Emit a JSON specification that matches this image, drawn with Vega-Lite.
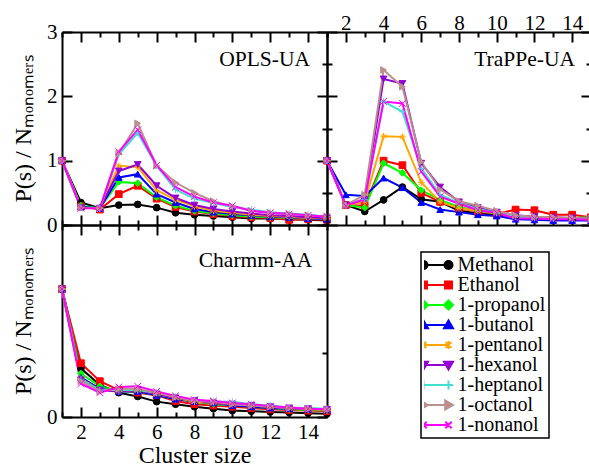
{
  "$schema": "https://vega.github.io/schema/vega-lite/v6.json",
  "padding": {"left": 11, "top": 7, "right": 0, "bottom": 0},
  "background": "white",
  "datasets": {
    "curves": [
      {"panel":"OPLS-UA","series":"Methanol","x":1,"y":1.0},{"panel":"OPLS-UA","series":"Methanol","x":2,"y":0.35},{"panel":"OPLS-UA","series":"Methanol","x":3,"y":0.26},{"panel":"OPLS-UA","series":"Methanol","x":4,"y":0.31},{"panel":"OPLS-UA","series":"Methanol","x":5,"y":0.32},{"panel":"OPLS-UA","series":"Methanol","x":6,"y":0.27},{"panel":"OPLS-UA","series":"Methanol","x":7,"y":0.19},{"panel":"OPLS-UA","series":"Methanol","x":8,"y":0.16},{"panel":"OPLS-UA","series":"Methanol","x":9,"y":0.14},{"panel":"OPLS-UA","series":"Methanol","x":10,"y":0.12},{"panel":"OPLS-UA","series":"Methanol","x":11,"y":0.10},{"panel":"OPLS-UA","series":"Methanol","x":12,"y":0.10},{"panel":"OPLS-UA","series":"Methanol","x":13,"y":0.09},{"panel":"OPLS-UA","series":"Methanol","x":14,"y":0.08},{"panel":"OPLS-UA","series":"Methanol","x":15,"y":0.07},
      {"panel":"OPLS-UA","series":"Ethanol","x":1,"y":1.0},{"panel":"OPLS-UA","series":"Ethanol","x":2,"y":0.29},{"panel":"OPLS-UA","series":"Ethanol","x":3,"y":0.24},{"panel":"OPLS-UA","series":"Ethanol","x":4,"y":0.48},{"panel":"OPLS-UA","series":"Ethanol","x":5,"y":0.61},{"panel":"OPLS-UA","series":"Ethanol","x":6,"y":0.41},{"panel":"OPLS-UA","series":"Ethanol","x":7,"y":0.28},{"panel":"OPLS-UA","series":"Ethanol","x":8,"y":0.21},{"panel":"OPLS-UA","series":"Ethanol","x":9,"y":0.17},{"panel":"OPLS-UA","series":"Ethanol","x":10,"y":0.14},{"panel":"OPLS-UA","series":"Ethanol","x":11,"y":0.12},{"panel":"OPLS-UA","series":"Ethanol","x":12,"y":0.11},{"panel":"OPLS-UA","series":"Ethanol","x":13,"y":0.08},{"panel":"OPLS-UA","series":"Ethanol","x":14,"y":0.09},{"panel":"OPLS-UA","series":"Ethanol","x":15,"y":0.08},
      {"panel":"OPLS-UA","series":"1-propanol","x":1,"y":1.0},{"panel":"OPLS-UA","series":"1-propanol","x":2,"y":0.30},{"panel":"OPLS-UA","series":"1-propanol","x":3,"y":0.26},{"panel":"OPLS-UA","series":"1-propanol","x":4,"y":0.67},{"panel":"OPLS-UA","series":"1-propanol","x":5,"y":0.65},{"panel":"OPLS-UA","series":"1-propanol","x":6,"y":0.43},{"panel":"OPLS-UA","series":"1-propanol","x":7,"y":0.30},{"panel":"OPLS-UA","series":"1-propanol","x":8,"y":0.22},{"panel":"OPLS-UA","series":"1-propanol","x":9,"y":0.18},{"panel":"OPLS-UA","series":"1-propanol","x":10,"y":0.15},{"panel":"OPLS-UA","series":"1-propanol","x":11,"y":0.13},{"panel":"OPLS-UA","series":"1-propanol","x":12,"y":0.12},{"panel":"OPLS-UA","series":"1-propanol","x":13,"y":0.11},{"panel":"OPLS-UA","series":"1-propanol","x":14,"y":0.10},{"panel":"OPLS-UA","series":"1-propanol","x":15,"y":0.09},
      {"panel":"OPLS-UA","series":"1-butanol","x":1,"y":1.0},{"panel":"OPLS-UA","series":"1-butanol","x":2,"y":0.28},{"panel":"OPLS-UA","series":"1-butanol","x":3,"y":0.26},{"panel":"OPLS-UA","series":"1-butanol","x":4,"y":0.74},{"panel":"OPLS-UA","series":"1-butanol","x":5,"y":0.79},{"panel":"OPLS-UA","series":"1-butanol","x":6,"y":0.48},{"panel":"OPLS-UA","series":"1-butanol","x":7,"y":0.35},{"panel":"OPLS-UA","series":"1-butanol","x":8,"y":0.25},{"panel":"OPLS-UA","series":"1-butanol","x":9,"y":0.20},{"panel":"OPLS-UA","series":"1-butanol","x":10,"y":0.17},{"panel":"OPLS-UA","series":"1-butanol","x":11,"y":0.15},{"panel":"OPLS-UA","series":"1-butanol","x":12,"y":0.13},{"panel":"OPLS-UA","series":"1-butanol","x":13,"y":0.12},{"panel":"OPLS-UA","series":"1-butanol","x":14,"y":0.10},{"panel":"OPLS-UA","series":"1-butanol","x":15,"y":0.09},
      {"panel":"OPLS-UA","series":"1-pentanol","x":1,"y":1.0},{"panel":"OPLS-UA","series":"1-pentanol","x":2,"y":0.27},{"panel":"OPLS-UA","series":"1-pentanol","x":3,"y":0.26},{"panel":"OPLS-UA","series":"1-pentanol","x":4,"y":0.92},{"panel":"OPLS-UA","series":"1-pentanol","x":5,"y":0.90},{"panel":"OPLS-UA","series":"1-pentanol","x":6,"y":0.54},{"panel":"OPLS-UA","series":"1-pentanol","x":7,"y":0.39},{"panel":"OPLS-UA","series":"1-pentanol","x":8,"y":0.29},{"panel":"OPLS-UA","series":"1-pentanol","x":9,"y":0.22},{"panel":"OPLS-UA","series":"1-pentanol","x":10,"y":0.19},{"panel":"OPLS-UA","series":"1-pentanol","x":11,"y":0.16},{"panel":"OPLS-UA","series":"1-pentanol","x":12,"y":0.14},{"panel":"OPLS-UA","series":"1-pentanol","x":13,"y":0.13},{"panel":"OPLS-UA","series":"1-pentanol","x":14,"y":0.11},{"panel":"OPLS-UA","series":"1-pentanol","x":15,"y":0.10},
      {"panel":"OPLS-UA","series":"1-hexanol","x":1,"y":1.0},{"panel":"OPLS-UA","series":"1-hexanol","x":2,"y":0.27},{"panel":"OPLS-UA","series":"1-hexanol","x":3,"y":0.26},{"panel":"OPLS-UA","series":"1-hexanol","x":4,"y":0.84},{"panel":"OPLS-UA","series":"1-hexanol","x":5,"y":0.94},{"panel":"OPLS-UA","series":"1-hexanol","x":6,"y":0.61},{"panel":"OPLS-UA","series":"1-hexanol","x":7,"y":0.42},{"panel":"OPLS-UA","series":"1-hexanol","x":8,"y":0.31},{"panel":"OPLS-UA","series":"1-hexanol","x":9,"y":0.25},{"panel":"OPLS-UA","series":"1-hexanol","x":10,"y":0.21},{"panel":"OPLS-UA","series":"1-hexanol","x":11,"y":0.18},{"panel":"OPLS-UA","series":"1-hexanol","x":12,"y":0.15},{"panel":"OPLS-UA","series":"1-hexanol","x":13,"y":0.14},{"panel":"OPLS-UA","series":"1-hexanol","x":14,"y":0.12},{"panel":"OPLS-UA","series":"1-hexanol","x":15,"y":0.11},
      {"panel":"OPLS-UA","series":"1-heptanol","x":1,"y":1.0},{"panel":"OPLS-UA","series":"1-heptanol","x":2,"y":0.27},{"panel":"OPLS-UA","series":"1-heptanol","x":3,"y":0.26},{"panel":"OPLS-UA","series":"1-heptanol","x":4,"y":1.10},{"panel":"OPLS-UA","series":"1-heptanol","x":5,"y":1.43},{"panel":"OPLS-UA","series":"1-heptanol","x":6,"y":0.92},{"panel":"OPLS-UA","series":"1-heptanol","x":7,"y":0.55},{"panel":"OPLS-UA","series":"1-heptanol","x":8,"y":0.41},{"panel":"OPLS-UA","series":"1-heptanol","x":9,"y":0.34},{"panel":"OPLS-UA","series":"1-heptanol","x":10,"y":0.28},{"panel":"OPLS-UA","series":"1-heptanol","x":11,"y":0.24},{"panel":"OPLS-UA","series":"1-heptanol","x":12,"y":0.20},{"panel":"OPLS-UA","series":"1-heptanol","x":13,"y":0.18},{"panel":"OPLS-UA","series":"1-heptanol","x":14,"y":0.16},{"panel":"OPLS-UA","series":"1-heptanol","x":15,"y":0.13},
      {"panel":"OPLS-UA","series":"1-octanol","x":1,"y":1.0},{"panel":"OPLS-UA","series":"1-octanol","x":2,"y":0.27},{"panel":"OPLS-UA","series":"1-octanol","x":3,"y":0.26},{"panel":"OPLS-UA","series":"1-octanol","x":4,"y":1.11},{"panel":"OPLS-UA","series":"1-octanol","x":5,"y":1.58},{"panel":"OPLS-UA","series":"1-octanol","x":6,"y":0.92},{"panel":"OPLS-UA","series":"1-octanol","x":7,"y":0.66},{"panel":"OPLS-UA","series":"1-octanol","x":8,"y":0.50},{"panel":"OPLS-UA","series":"1-octanol","x":9,"y":0.37},{"panel":"OPLS-UA","series":"1-octanol","x":10,"y":0.29},{"panel":"OPLS-UA","series":"1-octanol","x":11,"y":0.22},{"panel":"OPLS-UA","series":"1-octanol","x":12,"y":0.19},{"panel":"OPLS-UA","series":"1-octanol","x":13,"y":0.17},{"panel":"OPLS-UA","series":"1-octanol","x":14,"y":0.15},{"panel":"OPLS-UA","series":"1-octanol","x":15,"y":0.13},
      {"panel":"OPLS-UA","series":"1-nonanol","x":1,"y":1.0},{"panel":"OPLS-UA","series":"1-nonanol","x":2,"y":0.26},{"panel":"OPLS-UA","series":"1-nonanol","x":3,"y":0.26},{"panel":"OPLS-UA","series":"1-nonanol","x":4,"y":1.14},{"panel":"OPLS-UA","series":"1-nonanol","x":5,"y":1.48},{"panel":"OPLS-UA","series":"1-nonanol","x":6,"y":0.93},{"panel":"OPLS-UA","series":"1-nonanol","x":7,"y":0.59},{"panel":"OPLS-UA","series":"1-nonanol","x":8,"y":0.44},{"panel":"OPLS-UA","series":"1-nonanol","x":9,"y":0.35},{"panel":"OPLS-UA","series":"1-nonanol","x":10,"y":0.30},{"panel":"OPLS-UA","series":"1-nonanol","x":11,"y":0.22},{"panel":"OPLS-UA","series":"1-nonanol","x":12,"y":0.19},{"panel":"OPLS-UA","series":"1-nonanol","x":13,"y":0.17},{"panel":"OPLS-UA","series":"1-nonanol","x":14,"y":0.15},{"panel":"OPLS-UA","series":"1-nonanol","x":15,"y":0.13},

      {"panel":"TraPPe-UA","series":"Methanol","x":1,"y":1.0},{"panel":"TraPPe-UA","series":"Methanol","x":2,"y":0.31},{"panel":"TraPPe-UA","series":"Methanol","x":3,"y":0.21},{"panel":"TraPPe-UA","series":"Methanol","x":4,"y":0.39},{"panel":"TraPPe-UA","series":"Methanol","x":5,"y":0.59},{"panel":"TraPPe-UA","series":"Methanol","x":6,"y":0.40},{"panel":"TraPPe-UA","series":"Methanol","x":7,"y":0.36},{"panel":"TraPPe-UA","series":"Methanol","x":8,"y":0.22},{"panel":"TraPPe-UA","series":"Methanol","x":9,"y":0.18},{"panel":"TraPPe-UA","series":"Methanol","x":10,"y":0.16},{"panel":"TraPPe-UA","series":"Methanol","x":11,"y":0.13},{"panel":"TraPPe-UA","series":"Methanol","x":12,"y":0.11},{"panel":"TraPPe-UA","series":"Methanol","x":13,"y":0.10},{"panel":"TraPPe-UA","series":"Methanol","x":14,"y":0.09},{"panel":"TraPPe-UA","series":"Methanol","x":15,"y":0.08},
      {"panel":"TraPPe-UA","series":"Ethanol","x":1,"y":1.0},{"panel":"TraPPe-UA","series":"Ethanol","x":2,"y":0.31},{"panel":"TraPPe-UA","series":"Ethanol","x":3,"y":0.30},{"panel":"TraPPe-UA","series":"Ethanol","x":4,"y":1.00},{"panel":"TraPPe-UA","series":"Ethanol","x":5,"y":0.93},{"panel":"TraPPe-UA","series":"Ethanol","x":6,"y":0.50},{"panel":"TraPPe-UA","series":"Ethanol","x":7,"y":0.36},{"panel":"TraPPe-UA","series":"Ethanol","x":8,"y":0.26},{"panel":"TraPPe-UA","series":"Ethanol","x":9,"y":0.21},{"panel":"TraPPe-UA","series":"Ethanol","x":10,"y":0.17},{"panel":"TraPPe-UA","series":"Ethanol","x":11,"y":0.24},{"panel":"TraPPe-UA","series":"Ethanol","x":12,"y":0.23},{"panel":"TraPPe-UA","series":"Ethanol","x":13,"y":0.16},{"panel":"TraPPe-UA","series":"Ethanol","x":14,"y":0.16},{"panel":"TraPPe-UA","series":"Ethanol","x":15,"y":0.12},
      {"panel":"TraPPe-UA","series":"1-propanol","x":1,"y":1.0},{"panel":"TraPPe-UA","series":"1-propanol","x":2,"y":0.31},{"panel":"TraPPe-UA","series":"1-propanol","x":3,"y":0.27},{"panel":"TraPPe-UA","series":"1-propanol","x":4,"y":0.96},{"panel":"TraPPe-UA","series":"1-propanol","x":5,"y":0.81},{"panel":"TraPPe-UA","series":"1-propanol","x":6,"y":0.54},{"panel":"TraPPe-UA","series":"1-propanol","x":7,"y":0.39},{"panel":"TraPPe-UA","series":"1-propanol","x":8,"y":0.28},{"panel":"TraPPe-UA","series":"1-propanol","x":9,"y":0.22},{"panel":"TraPPe-UA","series":"1-propanol","x":10,"y":0.18},{"panel":"TraPPe-UA","series":"1-propanol","x":11,"y":0.14},{"panel":"TraPPe-UA","series":"1-propanol","x":12,"y":0.12},{"panel":"TraPPe-UA","series":"1-propanol","x":13,"y":0.11},{"panel":"TraPPe-UA","series":"1-propanol","x":14,"y":0.11},{"panel":"TraPPe-UA","series":"1-propanol","x":15,"y":0.12},
      {"panel":"TraPPe-UA","series":"1-butanol","x":1,"y":1.0},{"panel":"TraPPe-UA","series":"1-butanol","x":2,"y":0.47},{"panel":"TraPPe-UA","series":"1-butanol","x":3,"y":0.45},{"panel":"TraPPe-UA","series":"1-butanol","x":4,"y":0.73},{"panel":"TraPPe-UA","series":"1-butanol","x":5,"y":0.58},{"panel":"TraPPe-UA","series":"1-butanol","x":6,"y":0.35},{"panel":"TraPPe-UA","series":"1-butanol","x":7,"y":0.24},{"panel":"TraPPe-UA","series":"1-butanol","x":8,"y":0.20},{"panel":"TraPPe-UA","series":"1-butanol","x":9,"y":0.16},{"panel":"TraPPe-UA","series":"1-butanol","x":10,"y":0.14},{"panel":"TraPPe-UA","series":"1-butanol","x":11,"y":0.09},{"panel":"TraPPe-UA","series":"1-butanol","x":12,"y":0.08},{"panel":"TraPPe-UA","series":"1-butanol","x":13,"y":0.07},{"panel":"TraPPe-UA","series":"1-butanol","x":14,"y":0.07},{"panel":"TraPPe-UA","series":"1-butanol","x":15,"y":0.07},
      {"panel":"TraPPe-UA","series":"1-pentanol","x":1,"y":1.0},{"panel":"TraPPe-UA","series":"1-pentanol","x":2,"y":0.31},{"panel":"TraPPe-UA","series":"1-pentanol","x":3,"y":0.36},{"panel":"TraPPe-UA","series":"1-pentanol","x":4,"y":1.38},{"panel":"TraPPe-UA","series":"1-pentanol","x":5,"y":1.37},{"panel":"TraPPe-UA","series":"1-pentanol","x":6,"y":0.66},{"panel":"TraPPe-UA","series":"1-pentanol","x":7,"y":0.36},{"panel":"TraPPe-UA","series":"1-pentanol","x":8,"y":0.26},{"panel":"TraPPe-UA","series":"1-pentanol","x":9,"y":0.22},{"panel":"TraPPe-UA","series":"1-pentanol","x":10,"y":0.19},{"panel":"TraPPe-UA","series":"1-pentanol","x":11,"y":0.14},{"panel":"TraPPe-UA","series":"1-pentanol","x":12,"y":0.12},{"panel":"TraPPe-UA","series":"1-pentanol","x":13,"y":0.11},{"panel":"TraPPe-UA","series":"1-pentanol","x":14,"y":0.10},{"panel":"TraPPe-UA","series":"1-pentanol","x":15,"y":0.09},
      {"panel":"TraPPe-UA","series":"1-hexanol","x":1,"y":1.0},{"panel":"TraPPe-UA","series":"1-hexanol","x":2,"y":0.31},{"panel":"TraPPe-UA","series":"1-hexanol","x":3,"y":0.40},{"panel":"TraPPe-UA","series":"1-hexanol","x":4,"y":2.27},{"panel":"TraPPe-UA","series":"1-hexanol","x":5,"y":2.20},{"panel":"TraPPe-UA","series":"1-hexanol","x":6,"y":0.96},{"panel":"TraPPe-UA","series":"1-hexanol","x":7,"y":0.59},{"panel":"TraPPe-UA","series":"1-hexanol","x":8,"y":0.36},{"panel":"TraPPe-UA","series":"1-hexanol","x":9,"y":0.27},{"panel":"TraPPe-UA","series":"1-hexanol","x":10,"y":0.20},{"panel":"TraPPe-UA","series":"1-hexanol","x":11,"y":0.15},{"panel":"TraPPe-UA","series":"1-hexanol","x":12,"y":0.13},{"panel":"TraPPe-UA","series":"1-hexanol","x":13,"y":0.12},{"panel":"TraPPe-UA","series":"1-hexanol","x":14,"y":0.11},{"panel":"TraPPe-UA","series":"1-hexanol","x":15,"y":0.10},
      {"panel":"TraPPe-UA","series":"1-heptanol","x":1,"y":1.0},{"panel":"TraPPe-UA","series":"1-heptanol","x":2,"y":0.31},{"panel":"TraPPe-UA","series":"1-heptanol","x":3,"y":0.40},{"panel":"TraPPe-UA","series":"1-heptanol","x":4,"y":1.92},{"panel":"TraPPe-UA","series":"1-heptanol","x":5,"y":1.76},{"panel":"TraPPe-UA","series":"1-heptanol","x":6,"y":0.88},{"panel":"TraPPe-UA","series":"1-heptanol","x":7,"y":0.47},{"panel":"TraPPe-UA","series":"1-heptanol","x":8,"y":0.34},{"panel":"TraPPe-UA","series":"1-heptanol","x":9,"y":0.25},{"panel":"TraPPe-UA","series":"1-heptanol","x":10,"y":0.19},{"panel":"TraPPe-UA","series":"1-heptanol","x":11,"y":0.13},{"panel":"TraPPe-UA","series":"1-heptanol","x":12,"y":0.11},{"panel":"TraPPe-UA","series":"1-heptanol","x":13,"y":0.10},{"panel":"TraPPe-UA","series":"1-heptanol","x":14,"y":0.10},{"panel":"TraPPe-UA","series":"1-heptanol","x":15,"y":0.09},
      {"panel":"TraPPe-UA","series":"1-octanol","x":1,"y":1.0},{"panel":"TraPPe-UA","series":"1-octanol","x":2,"y":0.31},{"panel":"TraPPe-UA","series":"1-octanol","x":3,"y":0.47},{"panel":"TraPPe-UA","series":"1-octanol","x":4,"y":2.41},{"panel":"TraPPe-UA","series":"1-octanol","x":5,"y":2.15},{"panel":"TraPPe-UA","series":"1-octanol","x":6,"y":0.98},{"panel":"TraPPe-UA","series":"1-octanol","x":7,"y":0.55},{"panel":"TraPPe-UA","series":"1-octanol","x":8,"y":0.37},{"panel":"TraPPe-UA","series":"1-octanol","x":9,"y":0.30},{"panel":"TraPPe-UA","series":"1-octanol","x":10,"y":0.22},{"panel":"TraPPe-UA","series":"1-octanol","x":11,"y":0.15},{"panel":"TraPPe-UA","series":"1-octanol","x":12,"y":0.13},{"panel":"TraPPe-UA","series":"1-octanol","x":13,"y":0.12},{"panel":"TraPPe-UA","series":"1-octanol","x":14,"y":0.11},{"panel":"TraPPe-UA","series":"1-octanol","x":15,"y":0.10},
      {"panel":"TraPPe-UA","series":"1-nonanol","x":1,"y":1.0},{"panel":"TraPPe-UA","series":"1-nonanol","x":2,"y":0.30},{"panel":"TraPPe-UA","series":"1-nonanol","x":3,"y":0.40},{"panel":"TraPPe-UA","series":"1-nonanol","x":4,"y":1.92},{"panel":"TraPPe-UA","series":"1-nonanol","x":5,"y":1.89},{"panel":"TraPPe-UA","series":"1-nonanol","x":6,"y":0.83},{"panel":"TraPPe-UA","series":"1-nonanol","x":7,"y":0.44},{"panel":"TraPPe-UA","series":"1-nonanol","x":8,"y":0.33},{"panel":"TraPPe-UA","series":"1-nonanol","x":9,"y":0.23},{"panel":"TraPPe-UA","series":"1-nonanol","x":10,"y":0.19},{"panel":"TraPPe-UA","series":"1-nonanol","x":11,"y":0.10},{"panel":"TraPPe-UA","series":"1-nonanol","x":12,"y":0.10},{"panel":"TraPPe-UA","series":"1-nonanol","x":13,"y":0.09},{"panel":"TraPPe-UA","series":"1-nonanol","x":14,"y":0.09},{"panel":"TraPPe-UA","series":"1-nonanol","x":15,"y":0.08},

      {"panel":"Charmm-AA","series":"Methanol","x":1,"y":1.0},{"panel":"Charmm-AA","series":"Methanol","x":2,"y":0.38},{"panel":"Charmm-AA","series":"Methanol","x":3,"y":0.25},{"panel":"Charmm-AA","series":"Methanol","x":4,"y":0.19},{"panel":"Charmm-AA","series":"Methanol","x":5,"y":0.16},{"panel":"Charmm-AA","series":"Methanol","x":6,"y":0.12},{"panel":"Charmm-AA","series":"Methanol","x":7,"y":0.10},{"panel":"Charmm-AA","series":"Methanol","x":8,"y":0.08},{"panel":"Charmm-AA","series":"Methanol","x":9,"y":0.065},{"panel":"Charmm-AA","series":"Methanol","x":10,"y":0.05},{"panel":"Charmm-AA","series":"Methanol","x":11,"y":0.045},{"panel":"Charmm-AA","series":"Methanol","x":12,"y":0.04},{"panel":"Charmm-AA","series":"Methanol","x":13,"y":0.035},{"panel":"Charmm-AA","series":"Methanol","x":14,"y":0.03},{"panel":"Charmm-AA","series":"Methanol","x":15,"y":0.025},
      {"panel":"Charmm-AA","series":"Ethanol","x":1,"y":1.0},{"panel":"Charmm-AA","series":"Ethanol","x":2,"y":0.42},{"panel":"Charmm-AA","series":"Ethanol","x":3,"y":0.28},{"panel":"Charmm-AA","series":"Ethanol","x":4,"y":0.21},{"panel":"Charmm-AA","series":"Ethanol","x":5,"y":0.19},{"panel":"Charmm-AA","series":"Ethanol","x":6,"y":0.17},{"panel":"Charmm-AA","series":"Ethanol","x":7,"y":0.125},{"panel":"Charmm-AA","series":"Ethanol","x":8,"y":0.10},{"panel":"Charmm-AA","series":"Ethanol","x":9,"y":0.09},{"panel":"Charmm-AA","series":"Ethanol","x":10,"y":0.08},{"panel":"Charmm-AA","series":"Ethanol","x":11,"y":0.07},{"panel":"Charmm-AA","series":"Ethanol","x":12,"y":0.06},{"panel":"Charmm-AA","series":"Ethanol","x":13,"y":0.055},{"panel":"Charmm-AA","series":"Ethanol","x":14,"y":0.05},{"panel":"Charmm-AA","series":"Ethanol","x":15,"y":0.045},
      {"panel":"Charmm-AA","series":"1-propanol","x":1,"y":1.0},{"panel":"Charmm-AA","series":"1-propanol","x":2,"y":0.34},{"panel":"Charmm-AA","series":"1-propanol","x":3,"y":0.24},{"panel":"Charmm-AA","series":"1-propanol","x":4,"y":0.20},{"panel":"Charmm-AA","series":"1-propanol","x":5,"y":0.20},{"panel":"Charmm-AA","series":"1-propanol","x":6,"y":0.17},{"panel":"Charmm-AA","series":"1-propanol","x":7,"y":0.14},{"panel":"Charmm-AA","series":"1-propanol","x":8,"y":0.12},{"panel":"Charmm-AA","series":"1-propanol","x":9,"y":0.10},{"panel":"Charmm-AA","series":"1-propanol","x":10,"y":0.09},{"panel":"Charmm-AA","series":"1-propanol","x":11,"y":0.08},{"panel":"Charmm-AA","series":"1-propanol","x":12,"y":0.07},{"panel":"Charmm-AA","series":"1-propanol","x":13,"y":0.06},{"panel":"Charmm-AA","series":"1-propanol","x":14,"y":0.055},{"panel":"Charmm-AA","series":"1-propanol","x":15,"y":0.05},
      {"panel":"Charmm-AA","series":"1-butanol","x":1,"y":1.0},{"panel":"Charmm-AA","series":"1-butanol","x":2,"y":0.31},{"panel":"Charmm-AA","series":"1-butanol","x":3,"y":0.22},{"panel":"Charmm-AA","series":"1-butanol","x":4,"y":0.20},{"panel":"Charmm-AA","series":"1-butanol","x":5,"y":0.20},{"panel":"Charmm-AA","series":"1-butanol","x":6,"y":0.17},{"panel":"Charmm-AA","series":"1-butanol","x":7,"y":0.14},{"panel":"Charmm-AA","series":"1-butanol","x":8,"y":0.12},{"panel":"Charmm-AA","series":"1-butanol","x":9,"y":0.11},{"panel":"Charmm-AA","series":"1-butanol","x":10,"y":0.09},{"panel":"Charmm-AA","series":"1-butanol","x":11,"y":0.08},{"panel":"Charmm-AA","series":"1-butanol","x":12,"y":0.07},{"panel":"Charmm-AA","series":"1-butanol","x":13,"y":0.065},{"panel":"Charmm-AA","series":"1-butanol","x":14,"y":0.06},{"panel":"Charmm-AA","series":"1-butanol","x":15,"y":0.055},
      {"panel":"Charmm-AA","series":"1-pentanol","x":1,"y":1.0},{"panel":"Charmm-AA","series":"1-pentanol","x":2,"y":0.30},{"panel":"Charmm-AA","series":"1-pentanol","x":3,"y":0.21},{"panel":"Charmm-AA","series":"1-pentanol","x":4,"y":0.20},{"panel":"Charmm-AA","series":"1-pentanol","x":5,"y":0.21},{"panel":"Charmm-AA","series":"1-pentanol","x":6,"y":0.18},{"panel":"Charmm-AA","series":"1-pentanol","x":7,"y":0.15},{"panel":"Charmm-AA","series":"1-pentanol","x":8,"y":0.12},{"panel":"Charmm-AA","series":"1-pentanol","x":9,"y":0.11},{"panel":"Charmm-AA","series":"1-pentanol","x":10,"y":0.10},{"panel":"Charmm-AA","series":"1-pentanol","x":11,"y":0.09},{"panel":"Charmm-AA","series":"1-pentanol","x":12,"y":0.08},{"panel":"Charmm-AA","series":"1-pentanol","x":13,"y":0.07},{"panel":"Charmm-AA","series":"1-pentanol","x":14,"y":0.06},{"panel":"Charmm-AA","series":"1-pentanol","x":15,"y":0.055},
      {"panel":"Charmm-AA","series":"1-hexanol","x":1,"y":1.0},{"panel":"Charmm-AA","series":"1-hexanol","x":2,"y":0.29},{"panel":"Charmm-AA","series":"1-hexanol","x":3,"y":0.21},{"panel":"Charmm-AA","series":"1-hexanol","x":4,"y":0.20},{"panel":"Charmm-AA","series":"1-hexanol","x":5,"y":0.21},{"panel":"Charmm-AA","series":"1-hexanol","x":6,"y":0.18},{"panel":"Charmm-AA","series":"1-hexanol","x":7,"y":0.15},{"panel":"Charmm-AA","series":"1-hexanol","x":8,"y":0.13},{"panel":"Charmm-AA","series":"1-hexanol","x":9,"y":0.11},{"panel":"Charmm-AA","series":"1-hexanol","x":10,"y":0.10},{"panel":"Charmm-AA","series":"1-hexanol","x":11,"y":0.09},{"panel":"Charmm-AA","series":"1-hexanol","x":12,"y":0.08},{"panel":"Charmm-AA","series":"1-hexanol","x":13,"y":0.07},{"panel":"Charmm-AA","series":"1-hexanol","x":14,"y":0.065},{"panel":"Charmm-AA","series":"1-hexanol","x":15,"y":0.06},
      {"panel":"Charmm-AA","series":"1-heptanol","x":1,"y":1.0},{"panel":"Charmm-AA","series":"1-heptanol","x":2,"y":0.29},{"panel":"Charmm-AA","series":"1-heptanol","x":3,"y":0.21},{"panel":"Charmm-AA","series":"1-heptanol","x":4,"y":0.21},{"panel":"Charmm-AA","series":"1-heptanol","x":5,"y":0.21},{"panel":"Charmm-AA","series":"1-heptanol","x":6,"y":0.19},{"panel":"Charmm-AA","series":"1-heptanol","x":7,"y":0.16},{"panel":"Charmm-AA","series":"1-heptanol","x":8,"y":0.13},{"panel":"Charmm-AA","series":"1-heptanol","x":9,"y":0.12},{"panel":"Charmm-AA","series":"1-heptanol","x":10,"y":0.12},{"panel":"Charmm-AA","series":"1-heptanol","x":11,"y":0.10},{"panel":"Charmm-AA","series":"1-heptanol","x":12,"y":0.09},{"panel":"Charmm-AA","series":"1-heptanol","x":13,"y":0.075},{"panel":"Charmm-AA","series":"1-heptanol","x":14,"y":0.07},{"panel":"Charmm-AA","series":"1-heptanol","x":15,"y":0.065},
      {"panel":"Charmm-AA","series":"1-octanol","x":1,"y":1.0},{"panel":"Charmm-AA","series":"1-octanol","x":2,"y":0.28},{"panel":"Charmm-AA","series":"1-octanol","x":3,"y":0.20},{"panel":"Charmm-AA","series":"1-octanol","x":4,"y":0.22},{"panel":"Charmm-AA","series":"1-octanol","x":5,"y":0.22},{"panel":"Charmm-AA","series":"1-octanol","x":6,"y":0.19},{"panel":"Charmm-AA","series":"1-octanol","x":7,"y":0.155},{"panel":"Charmm-AA","series":"1-octanol","x":8,"y":0.13},{"panel":"Charmm-AA","series":"1-octanol","x":9,"y":0.12},{"panel":"Charmm-AA","series":"1-octanol","x":10,"y":0.10},{"panel":"Charmm-AA","series":"1-octanol","x":11,"y":0.09},{"panel":"Charmm-AA","series":"1-octanol","x":12,"y":0.08},{"panel":"Charmm-AA","series":"1-octanol","x":13,"y":0.07},{"panel":"Charmm-AA","series":"1-octanol","x":14,"y":0.065},{"panel":"Charmm-AA","series":"1-octanol","x":15,"y":0.06},
      {"panel":"Charmm-AA","series":"1-nonanol","x":1,"y":1.0},{"panel":"Charmm-AA","series":"1-nonanol","x":2,"y":0.26},{"panel":"Charmm-AA","series":"1-nonanol","x":3,"y":0.19},{"panel":"Charmm-AA","series":"1-nonanol","x":4,"y":0.235},{"panel":"Charmm-AA","series":"1-nonanol","x":5,"y":0.24},{"panel":"Charmm-AA","series":"1-nonanol","x":6,"y":0.20},{"panel":"Charmm-AA","series":"1-nonanol","x":7,"y":0.165},{"panel":"Charmm-AA","series":"1-nonanol","x":8,"y":0.135},{"panel":"Charmm-AA","series":"1-nonanol","x":9,"y":0.125},{"panel":"Charmm-AA","series":"1-nonanol","x":10,"y":0.11},{"panel":"Charmm-AA","series":"1-nonanol","x":11,"y":0.10},{"panel":"Charmm-AA","series":"1-nonanol","x":12,"y":0.085},{"panel":"Charmm-AA","series":"1-nonanol","x":13,"y":0.075},{"panel":"Charmm-AA","series":"1-nonanol","x":14,"y":0.065},{"panel":"Charmm-AA","series":"1-nonanol","x":15,"y":0.06}
    ]
  },
  "columns": 2,
  "spacing": 0,
  "bounds": "flush",
  "concat": [
    {
      "width": 265, "height": 193,
      "layer": [
        {
          "data": {"name": "curves"}, "transform": [{"filter": "datum.panel === 'OPLS-UA'"}],
          "mark": {"type": "line", "strokeWidth": 2},
          "encoding": {
            "x": {"field": "x", "type": "quantitative", "scale": {"domain": [1, 15], "nice": false, "zero": false},
                  "axis": {"orient": "bottom", "values": [1,2,3,4,5,6,7,8,9,10,11,12,13,14,15], "labels": false, "title": null,
                           "tickSize": {"condition": {"test": "datum.value % 2 === 0", "value": -10}, "value": -5}}},
            "y": {"field": "y", "type": "quantitative", "scale": {"domain": [0, 3], "nice": false},
                  "axis": {"orient": "left", "values": [0,0.5,1,1.5,2,2.5,3], "format": "d", "labelExpr": "datum.value % 1 === 0 ? datum.label : ''",
                           "tickSize": {"condition": {"test": "datum.value % 1 === 0", "value": -10}, "value": -5},
                           "labelPadding": 15, "title": "P(s) / Nₘₒₙₒₘₑᵣₛ", "titlePadding": 11}},
            "stroke": {"field": "series", "type": "nominal",
                       "scale": {"domain": ["Methanol","Ethanol","1-propanol","1-butanol","1-pentanol","1-hexanol","1-heptanol","1-octanol","1-nonanol"],
                                 "range": ["#000000","#ff0000","#00ff00","#0000ff","#ffa500","#9400d3","#40e0d0","#bc8f8f","#ff00ff"]},
                       "legend": {
                         "title": null, "orient": "none", "legendX": 359, "legendY": 220,
                         "encode": {
                           "symbols": {
                             "update": {
                               "shape": {"signal": "['M-0.833,0H0.833M-1.1,0A0.267,0.267 0 1,0 -0.566,0A0.267,0.267 0 1,0 -1.1,0ZM0.566,0A0.267,0.267 0 1,0 1.1,0A0.267,0.267 0 1,0 0.566,0Z','M-0.833,0H0.833M-1.066,-0.233H-0.6V0.233H-1.066ZM0.6,-0.233H1.066V0.233H0.6Z','M-0.833,0H0.833M-1.133,0L-0.833,-0.3L-0.533,0L-0.833,0.3ZM0.533,0L0.833,-0.3L1.133,0L0.833,0.3Z','M-0.833,0H0.833M-0.833,-0.3L-0.533,0.22L-1.133,0.22ZM0.833,-0.3L1.133,0.22L0.533,0.22Z','M-0.833,0H0.833M-0.833,-0.27V0.27M-1.024,-0.19L-0.642,0.19M-1.024,0.19L-0.642,-0.19M0.833,-0.27V0.27M0.642,-0.19L1.024,0.19M0.642,0.19L1.024,-0.19','M-0.833,0H0.833M-0.833,0.3L-0.533,-0.22L-1.133,-0.22ZM0.833,0.3L1.133,-0.22L0.533,-0.22Z','M-1.133,0H1.133M-0.833,-0.3V0.3M0.833,-0.3V0.3','M-0.833,0H0.833M-0.533,0L-1.053,-0.3L-1.053,0.3ZM1.133,0L0.613,-0.3L0.613,0.3Z','M-0.833,0H0.833M-1.045,-0.212L-0.621,0.212M-1.045,0.212L-0.621,-0.212M0.621,-0.212L1.045,0.212M0.621,0.212L1.045,-0.212'][indexof(['Methanol','Ethanol','1-propanol','1-butanol','1-pentanol','1-hexanol','1-heptanol','1-octanol','1-nonanol'], datum.value)]"},
                               "fill": {"scale": "stroke", "field": "value"},
                               "strokeWidth": {"value": 2},
                               "opacity": {"value": 1}
                             }
                           }
                         }
                       }}
          }
        },
        {
          "data": {"name": "curves"}, "transform": [{"filter": "datum.panel === 'OPLS-UA'"}],
          "mark": {"type": "point", "filled": true, "size": 45, "strokeWidth": 1, "opacity": 1},
          "encoding": {
            "x": {"field": "x", "type": "quantitative",
                  "axis": {"orient": "top", "values": [1,2,3,4,5,6,7,8,9,10,11,12,13,14,15], "labels": false, "title": null,
                           "tickSize": {"condition": {"test": "datum.value % 2 === 0", "value": -10}, "value": -5}}},
            "y": {"field": "y", "type": "quantitative",
                  "axis": {"orient": "right", "values": [0,0.5,1,1.5,2,2.5,3], "labels": false, "title": null,
                           "tickSize": {"condition": {"test": "datum.value % 1 === 0", "value": -10}, "value": -5}}},
            "fill": {"field": "series", "type": "nominal", "legend": null,
                     "scale": {"domain": ["1-nonanol","1-octanol","1-heptanol","1-hexanol","1-pentanol","1-butanol","1-propanol","Ethanol","Methanol"],
                               "range": ["#ff00ff","#bc8f8f","#40e0d0","#9400d3","#ffa500","#0000ff","#00ff00","#ff0000","#000000"]}},
            "stroke": {"field": "series", "type": "nominal"},
            "shape": {"field": "series", "type": "nominal", "legend": null,
                      "scale": {"domain": ["1-nonanol","1-octanol","1-heptanol","1-hexanol","1-pentanol","1-butanol","1-propanol","Ethanol","Methanol"],
                                "range": ["M-1,-1L1,1M-1,1L1,-1","triangle-right","M-1,0H1M0,-1V1","triangle-down","M-1,0H1M0,-1V1M-0.7,-0.7L0.7,0.7M-0.7,0.7L0.7,-0.7","triangle-up","diamond","square","circle"]}}
          }
        },
        {
          "data": {"values": [{"x": 14.1, "y": 2.57, "label": "OPLS-UA"}]},
          "mark": {"type": "text", "align": "right", "baseline": "middle", "font": "Liberation Serif", "fontSize": 21.5, "color": "black"},
          "encoding": {
            "x": {"field": "x", "type": "quantitative", "axis": null},
            "y": {"field": "y", "type": "quantitative", "axis": null},
            "text": {"field": "label"}
          }
        }
      ],
      "resolve": {"axis": {"x": "independent", "y": "independent"}}
    },
    {
      "width": 264, "height": 193,
      "layer": [
        {
          "data": {"name": "curves"}, "transform": [{"filter": "datum.panel === 'TraPPe-UA'"}],
          "mark": {"type": "line", "strokeWidth": 2},
          "encoding": {
            "x": {"field": "x", "type": "quantitative", "scale": {"domain": [1, 15], "nice": false, "zero": false},
                  "axis": {"orient": "bottom", "values": [1,2,3,4,5,6,7,8,9,10,11,12,13,14,15], "labels": false, "title": null,
                           "tickSize": {"condition": {"test": "datum.value % 2 === 0", "value": -10}, "value": -5}}},
            "y": {"field": "y", "type": "quantitative", "scale": {"domain": [0, 3], "nice": false},
                  "axis": {"orient": "left", "values": [0,0.5,1,1.5,2,2.5,3], "labels": false, "title": null,
                           "tickSize": {"condition": {"test": "datum.value % 1 === 0", "value": -10}, "value": -5}}},
            "stroke": {"field": "series", "type": "nominal"}
          }
        },
        {
          "data": {"name": "curves"}, "transform": [{"filter": "datum.panel === 'TraPPe-UA'"}],
          "mark": {"type": "point", "filled": true, "size": 45, "strokeWidth": 1, "opacity": 1},
          "encoding": {
            "x": {"field": "x", "type": "quantitative",
                  "axis": {"orient": "top", "values": [1,2,3,4,5,6,7,8,9,10,11,12,13,14,15], "format": "d", "labelExpr": "datum.value % 2 === 0 ? datum.label : ''",
                           "labelFlush": false, "labelOverlap": false, "labelPadding": 9, "title": null,
                           "tickSize": {"condition": {"test": "datum.value % 2 === 0", "value": -10}, "value": -5}}},
            "y": {"field": "y", "type": "quantitative",
                  "axis": {"orient": "right", "values": [0,0.5,1,1.5,2,2.5,3], "labels": false, "title": null,
                           "tickSize": {"condition": {"test": "datum.value % 1 === 0", "value": -10}, "value": -5}}},
            "fill": {"field": "series", "type": "nominal", "legend": null},
            "stroke": {"field": "series", "type": "nominal"},
            "shape": {"field": "series", "type": "nominal", "legend": null}
          }
        },
        {
          "data": {"values": [{"x": 14.15, "y": 2.57, "label": "TraPPe-UA"}]},
          "mark": {"type": "text", "align": "right", "baseline": "middle", "font": "Liberation Serif", "fontSize": 21.5, "color": "black"},
          "encoding": {
            "x": {"field": "x", "type": "quantitative", "axis": null},
            "y": {"field": "y", "type": "quantitative", "axis": null},
            "text": {"field": "label"}
          }
        }
      ],
      "resolve": {"axis": {"x": "independent", "y": "independent"}}
    },
    {
      "width": 265, "height": 192,
      "layer": [
        {
          "data": {"name": "curves"}, "transform": [{"filter": "datum.panel === 'Charmm-AA'"}],
          "mark": {"type": "line", "strokeWidth": 2},
          "encoding": {
            "x": {"field": "x", "type": "quantitative", "scale": {"domain": [1, 15], "nice": false, "zero": false},
                  "axis": {"orient": "bottom", "values": [1,2,3,4,5,6,7,8,9,10,11,12,13,14,15], "format": "d", "labelExpr": "datum.value % 2 === 0 ? datum.label : ''",
                           "labelFlush": false, "labelOverlap": false, "labelPadding": 14, "title": "Cluster size", "titlePadding": -4,
                           "tickSize": {"condition": {"test": "datum.value % 2 === 0", "value": -10}, "value": -5}}},
            "y": {"field": "y", "type": "quantitative", "scale": {"domain": [0, 1.5], "nice": false},
                  "axis": {"orient": "left", "values": [0,0.5,1,1.5], "format": "d", "labelExpr": "datum.value % 1 === 0 ? datum.label : ''",
                           "tickSize": {"condition": {"test": "datum.value % 1 === 0", "value": -10}, "value": -5},
                           "labelPadding": 15, "title": "P(s) / Nₘₒₙₒₘₑᵣₛ", "titlePadding": 11}},
            "stroke": {"field": "series", "type": "nominal"}
          }
        },
        {
          "data": {"name": "curves"}, "transform": [{"filter": "datum.panel === 'Charmm-AA'"}],
          "mark": {"type": "point", "filled": true, "size": 45, "strokeWidth": 1, "opacity": 1},
          "encoding": {
            "x": {"field": "x", "type": "quantitative",
                  "axis": {"orient": "top", "values": [1,2,3,4,5,6,7,8,9,10,11,12,13,14,15], "labels": false, "title": null,
                           "tickSize": {"condition": {"test": "datum.value % 2 === 0", "value": -10}, "value": -5}}},
            "y": {"field": "y", "type": "quantitative",
                  "axis": {"orient": "right", "values": [0,0.5,1,1.5], "labels": false, "title": null,
                           "tickSize": {"condition": {"test": "datum.value % 1 === 0", "value": -10}, "value": -5}}},
            "fill": {"field": "series", "type": "nominal", "legend": null},
            "stroke": {"field": "series", "type": "nominal"},
            "shape": {"field": "series", "type": "nominal", "legend": null}
          }
        },
        {
          "data": {"values": [{"x": 14.22, "y": 1.215, "label": "Charmm-AA"}]},
          "mark": {"type": "text", "align": "right", "baseline": "middle", "font": "Liberation Serif", "fontSize": 21.5, "color": "black"},
          "encoding": {
            "x": {"field": "x", "type": "quantitative", "axis": null},
            "y": {"field": "y", "type": "quantitative", "axis": null},
            "text": {"field": "label"}
          }
        }
      ],
      "resolve": {"axis": {"x": "independent", "y": "independent"}}
    }
  ],
  "config": {
    "view": {"stroke": null},
    "axis": {
      "domainColor": "black", "domainWidth": 2, "tickColor": "black", "tickWidth": 2, "grid": false,
      "labelFont": "Liberation Serif", "labelFontSize": 21, "labelColor": "black",
      "titleFont": "Liberation Serif", "titleFontSize": 24, "titleColor": "black", "titleFontWeight": "normal"
    },
    "legend": {
      "labelFont": "Liberation Serif", "labelFontSize": 20, "labelColor": "black", "labelOffset": 5.5, "symbolOffset": -4,
      "strokeColor": "black", "fillColor": "white", "padding": 3, "strokeWidth": 1.5,
      "symbolSize": 900, "symbolStrokeWidth": 2, "clipHeight": 20, "rowPadding": 0
    }
  }
}
